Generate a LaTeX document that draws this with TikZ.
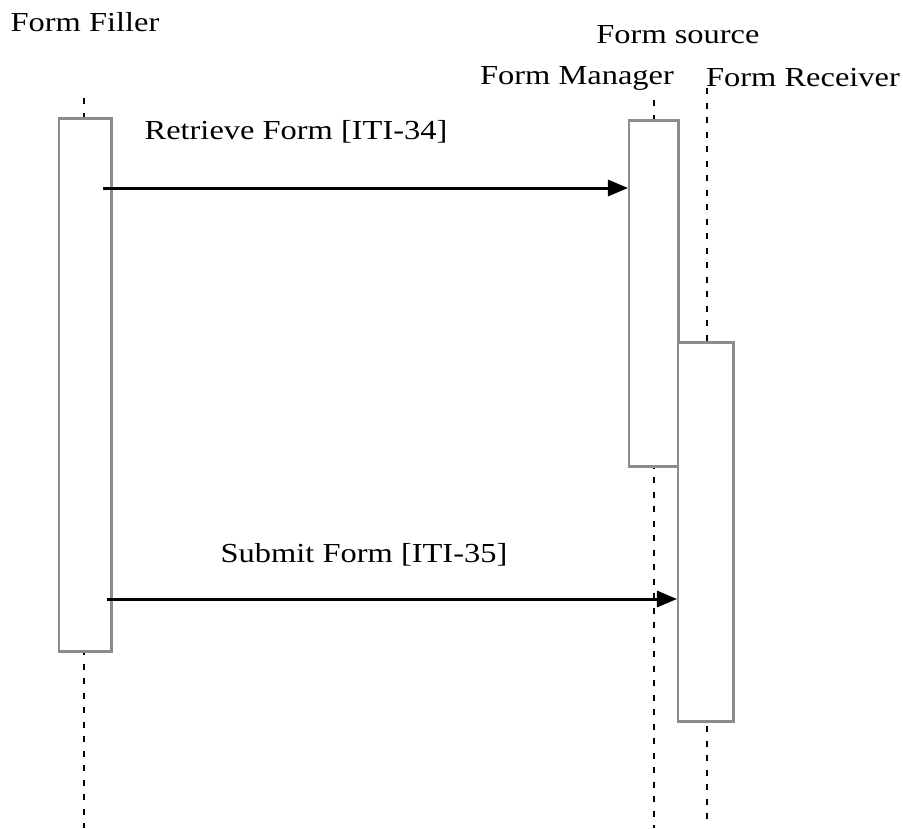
\documentclass[tikz,border=0pt]{standalone}
\usepackage{fontspec}
\setmainfont{Liberation Serif}
\usetikzlibrary{positioning}
\usetikzlibrary{arrows.meta}
\newcommand{\widetxt}[1]{\scalebox{1.18}[1]{#1}}

\begin{document}
\begin{tikzpicture}[x=0.4pt,y=-0.4pt,
  lbl/.style={font=\fontsize{11}{13}\selectfont, inner sep=0pt},
  actbox/.style={draw=black!45, fill=white, line width=1pt, inner sep=0pt, anchor=north west},
  lifeline/.style={line width=1.1pt, dash pattern=on 2.4pt off 3.4pt},
  msg/.style={line width=1.2pt, -{Triangle[length=8pt,width=6.4pt]}}]

  \useasboundingbox (0,0) rectangle (903,829);

  % participants
  \node[lbl] (filler) at (85,22) {\widetxt{Form Filler}};
  \node[lbl] (source) at (678,35) {\widetxt{Form source}};
  \node[lbl] (manager) at (577,78) {\widetxt{Form Manager}};
  \node[lbl] (receiver) at (803,78) {\widetxt{Form Receiver}};

  % lifelines
  \coordinate (fl top) at (84,98);
  \coordinate (fl bot) at (84,828);
  \coordinate (ml top) at (654,100);
  \coordinate (ml bot) at (654,828);
  \coordinate (rl top) at (707,88);
  \coordinate (rl bot) at (707,820);
  \draw[lifeline] (fl top) -- (fl bot);
  \draw[lifeline] (ml top) -- (ml bot);
  \draw[lifeline] (rl top) -- (rl bot);

  % activation boxes
  \node[actbox, minimum width=20.8pt, minimum height=213.2pt] (fillbox) at (58,117) {};
  \node[actbox, minimum width=19.6pt, minimum height=138.4pt] (mgrbox) at (628,119) {};
  \node[actbox, minimum width=22pt, minimum height=151.6pt] (rcvbox) at (677,341) {};

  % messages
  \coordinate (m1) at (103,188);
  \coordinate (m2) at (107,599);
  \draw[msg] (m1) -- (mgrbox.west |- m1);
  \node[lbl] (retrieve) at (296,132) {\widetxt{Retrieve Form [ITI-34]}};
  \draw[msg] (m2) -- (rcvbox.west |- m2);
  \node[lbl] (submit) at (364,555) {\widetxt{Submit Form [ITI-35]}};
\end{tikzpicture}
\end{document}
